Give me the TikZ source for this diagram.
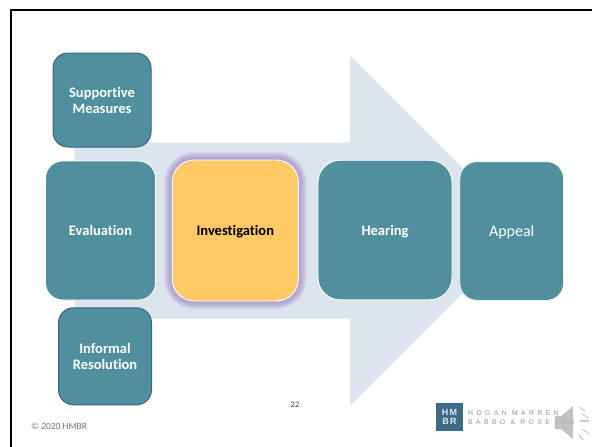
\documentclass[tikz,border=0pt]{standalone}
\usepackage{fontspec}
\setmainfont{Carlito}[Ligatures=NoCommon]
\newfontfamily\logofont[LetterSpace=50]{Liberation Sans}
\newfontfamily\markfont[LetterSpace=12]{Liberation Sans}
\usepackage{tikz}
\usetikzlibrary{positioning, calc}
\definecolor{tealbox}{HTML}{4F8F9E}
\definecolor{bluedge}{HTML}{3F6190}
\definecolor{arrowfill}{HTML}{DCE4ED}
\definecolor{goldbox}{HTML}{FFC966}
\definecolor{glowline}{HTML}{A48FCC}
\definecolor{logoblue}{HTML}{3C6A88}
\tikzset{
  stagebox/.style={rounded corners=17pt, fill=tealbox, draw=white, line width=0.9pt, text=white, font=\bfseries\fontsize{14.5}{16}\selectfont, align=center},
  sidebox/.style={stagebox, rounded corners=15pt, draw=bluedge, line width=1pt},
  logotext/.style={text=gray!85, font=\logofont\fontsize{6.8}{7}\selectfont, anchor=west, inner sep=0pt},
  wave/.style={draw=gray!40, line width=1.1pt}
}
\begin{document}
\begin{tikzpicture}[x=1pt, y=-1pt]
                \useasboundingbox (0,0) rectangle (592,447);
                \fill[white] (0,0) rectangle (592,447);
                \draw[line width=2pt] (11,447) -- (11,10) -- (592,10);

                \fill[arrowfill] (74.7,142.7) -- (350,142.7) -- (350,56) -- (525,231) -- (350,405.7) -- (350,318.7) -- (74.7,318.7) -- cycle;

                \node[sidebox] (S) at (102,100) [minimum width=98pt, minimum height=94pt] {Supportive\\Measures};
                \node[sidebox] (R) at (105,356.3) [minimum width=93pt, minimum height=97pt] {Informal\\Resolution};
                \node[stagebox] (E) at (100.5,230.5) [minimum width=110pt, minimum height=139pt] {Evaluation};

                % glow is a stack of thick outlines
                \foreach \g in {16,14,12,10,8,6,4}
                    \draw[glowline, opacity=0.17, rounded corners=22pt, line width=\g pt] (172.3,160) rectangle (298.3,301);
                \node[stagebox, fill=goldbox, text=black, rounded corners=22pt, text depth=0pt] (I) at (235.3,230.5) [minimum width=126pt, minimum height=141pt] {Investigation};
                \node[stagebox, rounded corners=22pt, text depth=0pt] (H) at (385,230) [minimum width=134pt, minimum height=139.5pt] {Hearing};
                \node[stagebox, line width=0.5pt, font=\fontsize{16}{18}\selectfont, text depth=0pt] (A) at (511.7,231) [minimum width=103.5pt, minimum height=138.5pt] {Appeal};

                \node[text=gray!95!black, font=\fontsize{9.5}{10}\selectfont, anchor=west, inner sep=0pt] (C) at (31,426) {© 2020 HMBR};
                \node[text=black!75, font=\fontsize{8.5}{9}\selectfont, inner sep=0pt] (P) at (295,405) {22};

                \node[fill=logoblue, minimum width=27pt, minimum height=28pt, inner sep=0pt, text=white!85!logoblue, align=center, font=\markfont\bfseries\fontsize{9}{9.5}\selectfont] (L) at (449.5,417) {HM\\BR};
                \node[logotext] (L1) at (468,413) {HOGAN MARREN};
                \node[logotext] (L2) at (468,422.5) {BABBO \& ROSE LTD};

                % speaker
                \fill[gray!60, opacity=0.8] (555,416) -- (561,416) -- (573,406) -- (573,439) -- (561,429) -- (555,429) -- cycle;
                \draw[wave] (579,407) -- (585,411);
                \draw[wave] (582,414) -- (589,418);
                \draw[wave] (580,421) -- (589,421);
                \draw[wave] (582,429) -- (589,434);
                \draw[wave] (579,435) -- (583,440);
            \end{tikzpicture}
\end{document}
